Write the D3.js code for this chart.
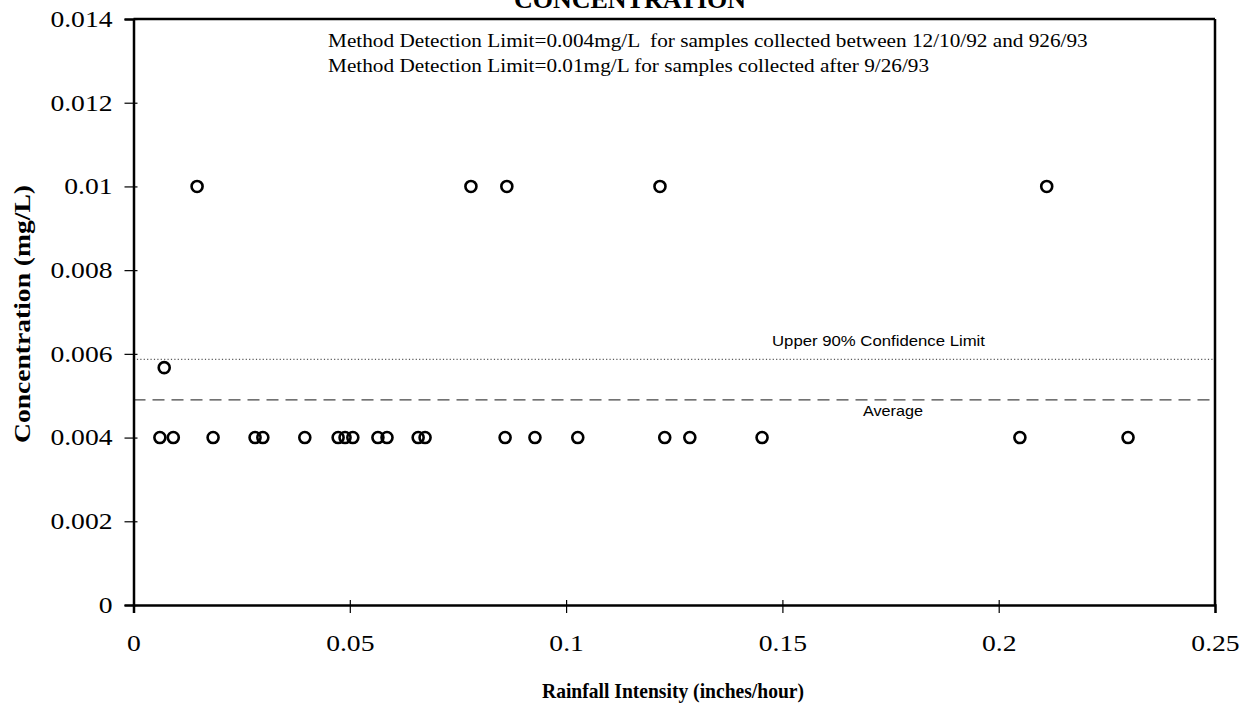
<!DOCTYPE html>
<html>
<head>
<meta charset="utf-8">
<script src="https://cdn.jsdelivr.net/npm/d3@7"></script>
<style>
  html, body { margin: 0; padding: 0; background: #fff; }
  svg { display: block; }
  .serif { font-family: "Liberation Serif", "Times New Roman", serif; }
  .sans { font-family: "Liberation Sans", Arial, sans-serif; }
  text { white-space: pre; }
</style>
</head>
<body>
<svg id="chart" width="1243" height="705"></svg>
<script>
// Rainfall intensity (in/hr) vs. concentration (mg/L)
const xTickValues = [0, 0.05, 0.1, 0.15, 0.2, 0.25];
const yTickValues = [0, 0.002, 0.004, 0.006, 0.008, 0.01, 0.012, 0.014];

// samples at the 0.004 mg/L detection limit
const lowIntensity = [0.0061, 0.0092, 0.0184, 0.0281, 0.0299, 0.0396, 0.0473, 0.0489,
  0.0507, 0.0565, 0.0586, 0.0658, 0.0674, 0.0859, 0.0928, 0.1027, 0.1228, 0.1286,
  0.1453, 0.2049, 0.2299];
const lowConc = lowIntensity.map(() => 0.004);
// samples at the 0.01 mg/L detection limit
const highIntensity = [0.0147, 0.078, 0.0863, 0.1217, 0.2111];
const highConc = highIntensity.map(() => 0.01);
// detected sample
const midIntensity = [0.0071];
const midConc = [0.00567];

const averageConc = 0.0049;
const upperLimitConc = 0.00587;

const titleText = "CONCENTRATION";
const noteLines = [
  "Method Detection Limit=0.004mg/L  for samples collected between 12/10/92 and 926/93",
  "Method Detection Limit=0.01mg/L for samples collected after 9/26/93"
];

const svg = d3.select("#chart");
const plotLeft = 133.5, plotRight = 1215, plotTop = 19, plotBottom = 605;

const x = d3.scaleLinear().domain([0, 0.25]).range([plotLeft, plotRight]);
const y = d3.scaleLinear().domain([0, 0.014]).range([plotBottom, plotTop]);

// widen glyphs horizontally by a factor, keeping the anchor
function widen(sel, factor) {
  sel.each(function () {
    const w = this.getComputedTextLength();
    d3.select(this).attr("textLength", w * factor).attr("lengthAdjust", "spacingAndGlyphs");
  });
}

// title (partly above the page)
svg.append("text").attr("class", "serif")
  .attr("x", 630).attr("y", 8)
  .attr("text-anchor", "middle")
  .attr("font-weight", "bold").attr("font-size", 26)
  .text(titleText);

// reference lines
svg.append("line")
  .attr("x1", x(0)).attr("x2", x(0.25))
  .attr("y1", y(upperLimitConc)).attr("y2", y(upperLimitConc))
  .attr("stroke", "#333").attr("stroke-width", 1)
  .attr("stroke-dasharray", "1.2,2.2");
svg.append("line")
  .attr("x1", x(0)).attr("x2", x(0.25))
  .attr("y1", y(averageConc)).attr("y2", y(averageConc))
  .attr("stroke", "#444").attr("stroke-width", 1.3)
  .attr("stroke-dasharray", "12,7");

svg.append("text").attr("class", "sans")
  .attr("x", 772).attr("y", y(upperLimitConc) - 13)
  .attr("font-size", 14.5)
  .attr("textLength", 213).attr("lengthAdjust", "spacingAndGlyphs")
  .text("Upper 90% Confidence Limit");
svg.append("text").attr("class", "sans")
  .attr("x", 863).attr("y", y(averageConc) + 16)
  .attr("font-size", 14.5)
  .attr("textLength", 60).attr("lengthAdjust", "spacingAndGlyphs")
  .text("Average");

// frame
svg.append("line").attr("x1", x(0)).attr("x2", x(0.25)).attr("y1", y(0.014)).attr("y2", y(0.014))
  .attr("stroke", "#000").attr("stroke-width", 2.5);
svg.append("line").attr("x1", x(0.25)).attr("x2", x(0.25)).attr("y1", y(0.014)).attr("y2", y(0))
  .attr("stroke", "#000").attr("stroke-width", 2.5);

// axes
const yAxis = svg.append("g").attr("transform", `translate(${plotLeft},0)`)
  .call(d3.axisLeft(y).tickValues(yTickValues).tickFormat(d => d3.format("")(+d.toFixed(3))).tickSize(9).tickPadding(12));
yAxis.select(".domain").attr("stroke-width", 2.5);
yAxis.selectAll(".tick line").attr("x2", -9).attr("x1", 4).attr("stroke-width", 1.2);
yAxis.selectAll(".tick text").attr("class", "serif").attr("font-size", 23).attr("fill", "#000")
  .call(widen, 1.2);

const xAxis = svg.append("g").attr("transform", `translate(0,${plotBottom})`)
  .call(d3.axisBottom(x).tickValues(xTickValues).tickFormat(d => d3.format("")(+d.toFixed(2))).tickSize(8).tickPadding(22));
xAxis.select(".domain").attr("stroke-width", 2.5);
xAxis.selectAll(".tick line").attr("y1", -5).attr("y2", 8).attr("stroke-width", 1.2);
xAxis.selectAll(".tick text").attr("class", "serif").attr("font-size", 23).attr("fill", "#000")
  .call(widen, 1.2);
svg.selectAll(".domain").attr("stroke", "#000");

// notes
noteLines.forEach((t, i) => {
  svg.append("text").attr("class", "serif")
    .attr("x", 328).attr("y", 47 + i * 25)
    .attr("font-size", 18)
    .text(t)
    .call(widen, 1.18);
});

// axis titles
svg.append("text").attr("class", "serif")
  .attr("transform", "translate(30,314) rotate(-90)")
  .attr("text-anchor", "middle")
  .attr("font-weight", "bold").attr("font-size", 24)
  .attr("textLength", 258).attr("lengthAdjust", "spacingAndGlyphs")
  .text("Concentration (mg/L)");
svg.append("text").attr("class", "serif")
  .attr("x", 673).attr("y", 698)
  .attr("text-anchor", "middle")
  .attr("font-weight", "bold").attr("font-size", 22)
  .attr("textLength", 262).attr("lengthAdjust", "spacingAndGlyphs")
  .text("Rainfall Intensity (inches/hour)");

// points
const pts = [];
lowIntensity.forEach((v, i) => pts.push([v, lowConc[i]]));
highIntensity.forEach((v, i) => pts.push([v, highConc[i]]));
midIntensity.forEach((v, i) => pts.push([v, midConc[i]]));
svg.append("g").selectAll("circle").data(pts).join("circle")
  .attr("cx", d => x(d[0])).attr("cy", d => y(d[1]))
  .attr("r", 5.5)
  .attr("fill", "none").attr("stroke", "#000").attr("stroke-width", 2.6);
</script>
</body>
</html>
